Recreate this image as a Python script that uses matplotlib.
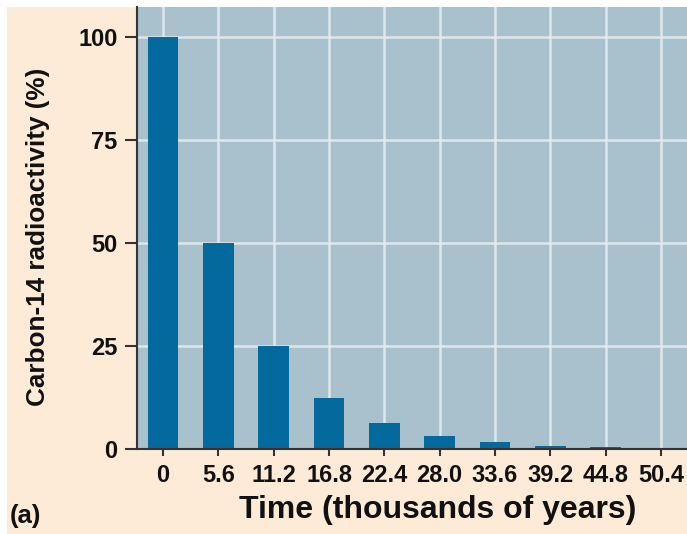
import numpy as np
import matplotlib.pyplot as plt
from matplotlib.patches import Rectangle

plt.rcParams['font.family'] = ['Liberation Sans', 'DejaVu Sans']

# data
labels = ['0', '5.6', '11.2', '16.8', '22.4', '28.0', '33.6', '39.2', '44.8', '50.4']
activity = [100, 50, 25, 12.5, 6.3, 3.1, 1.6, 0.8, 0.4, 0.2]
yticks = [0, 25, 50, 75, 100]

peach = '#FDEBD7'
panel = '#A9C1CD'
bar_col = '#04699C'
dark = '#333333'

fig = plt.figure(figsize=(6.87, 5.34), dpi=100, facecolor='white')
# peach backdrop with thin white margin at top/left
fig.patches.append(Rectangle((7/687, 0), 1, 1 - 7/534, transform=fig.transFigure,
                             facecolor=peach, edgecolor='none', zorder=-10))

ax = fig.add_axes([137/687, 1 - 449/534, 1 - 137/687, (449 - 7)/534])
ax.set_facecolor(panel)

x = np.arange(len(activity))
ax.bar(x, activity, width=0.56, color=bar_col, zorder=3)

ax.set_xlim(-0.47, 9.47)
ax.set_ylim(0, 107.3)
ax.set_xticks(x)
ax.set_xticklabels(labels)
ax.set_yticks(yticks)

ax.grid(True, color='#E4ECF0', linewidth=1.8, alpha=0.9, zorder=1)
ax.set_axisbelow(True)

for s in ['top', 'right']:
    ax.spines[s].set_visible(False)
for s in ['left', 'bottom']:
    ax.spines[s].set_color(dark)
    ax.spines[s].set_linewidth(1.5)
    ax.spines[s].set_zorder(4)

ax.tick_params(axis='both', colors=dark, width=1.5, labelcolor='#111111')
ax.tick_params(axis='y', length=9, pad=5)
ax.tick_params(axis='x', length=5, pad=6)
for t in ax.get_xticklabels() + ax.get_yticklabels():
    t.set_fontsize(17)
    t.set_fontweight('bold')

fig.text(438/687, 1 - 510/534, 'Time (thousands of years)', fontsize=23,
         fontweight='bold', ha='center', va='center', color='#111111')
fig.text(38/687, 1 - 237/534, 'Carbon-14 radioactivity (%)', fontsize=18.8,
         fontweight='bold', ha='center', va='center', rotation=90, color='#111111')
fig.text(10/687, 1 - 516/534, '(a)', fontsize=18.5, fontweight='bold',
         ha='left', va='center', color='#111111')

fig.savefig('out.png', dpi=100, facecolor=fig.get_facecolor())
